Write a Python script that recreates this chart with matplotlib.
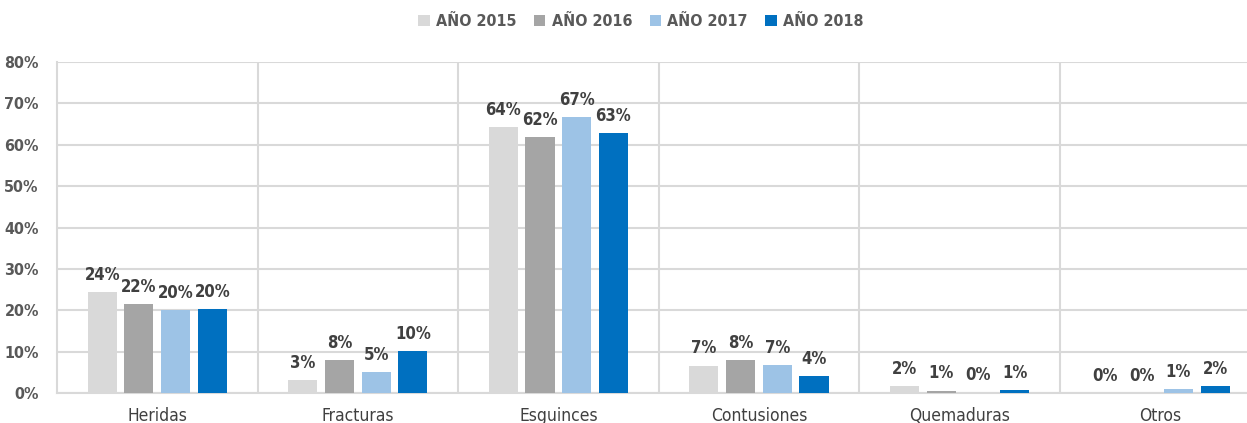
import numpy as np
import matplotlib.pyplot as plt

plt.rcParams['font.family'] = ['DejaVu Sans']
plt.rcParams['font.stretch'] = 'condensed'

categorias = ['Heridas', 'Fracturas', 'Esguinces', 'Contusiones', 'Quemaduras', 'Otros']
anios = ['AÑO 2015', 'AÑO 2016', 'AÑO 2017', 'AÑO 2018']
v2015 = [24.4, 3.1, 64.2, 6.6, 1.6, 0.0]
v2016 = [21.5, 8.0, 61.8, 8.0, 0.6, 0.0]
v2017 = [20.0, 5.0, 66.7, 6.8, 0.1, 0.9]
v2018 = [20.3, 10.1, 62.8, 4.1, 0.7, 1.7]
colores = ['#d9d9d9', '#a5a5a5', '#9dc3e6', '#0070c0']

fig = plt.figure(figsize=[12.47, 4.23], dpi=100)
ax = fig.add_axes([0.0457, 0.0709, 0.965, 0.7825])

x = np.arange(len(categorias))
w = 0.145
paso = 0.183
series = [v2015, v2016, v2017, v2018]
for i, vals in enumerate(series):
    pos = x + (i - 1.5) * paso
    bars = ax.bar(pos, vals, w, color=colores[i], label=anios[i], zorder=3)
    for b, v in zip(bars, vals):
        ax.text(b.get_x() + b.get_width() / 2, v + 2.0, '{:.0f}%'.format(v),
                ha='center', va='bottom', fontsize=12, fontweight='bold', color='#404040')

ax.set_xlim(-0.5, len(categorias) - 0.5)
ax.set_ylim(0, 80)
ax.set_yticks(range(0, 81, 10))
ax.set_yticklabels(['{}%'.format(t) for t in range(0, 81, 10)])
ax.set_xticks(x)
ax.set_xticklabels(categorias)
ax.tick_params(axis='y', length=0, pad=13, labelsize=11.5, labelcolor='#595959')
for lb in ax.get_yticklabels():
    lb.set_fontweight('bold')
ax.tick_params(axis='x', length=0, pad=10, labelsize=12.5, labelcolor='#404040')

ax.grid(axis='y', color='#d9d9d9', linewidth=1.5, zorder=0)
for b in np.arange(0.5, len(categorias) - 0.5, 1):
    ax.axvline(b, color='#d9d9d9', linewidth=1.5, zorder=0)
for s in ['top', 'right']:
    ax.spines[s].set_visible(False)
ax.spines['left'].set_color('#d9d9d9')
ax.spines['left'].set_linewidth(1.5)
ax.spines['bottom'].set_color('#d9d9d9')
ax.spines['bottom'].set_linewidth(1.5)

leg = fig.legend(loc='upper center', bbox_to_anchor=(0.514, 1.0), ncol=4, frameon=False,
                 handlelength=0.7, handleheight=0.7, handletextpad=0.4, columnspacing=1.1,
                 prop={'size': 11.5, 'weight': 'bold', 'stretch': 'condensed'})
for t in leg.get_texts():
    t.set_color('#595959')

plt.savefig('out.png')
